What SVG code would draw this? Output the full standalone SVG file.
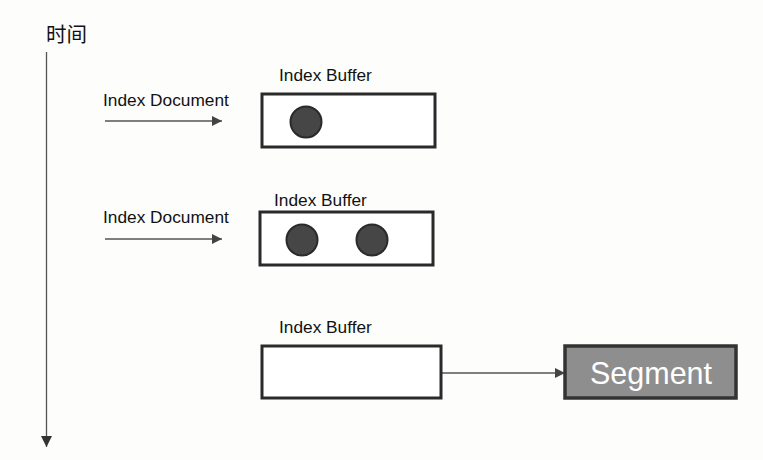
<svg xmlns="http://www.w3.org/2000/svg" width="763" height="460" viewBox="0 0 763 460">
<defs>
<style>
.lbl{font-family:"Liberation Sans",Arial,sans-serif;font-size:17.3px;fill:#111}
.buf{fill:#fff;stroke:#2a2a2a;stroke-width:3}
.dot{fill:#464646;stroke:#2a2a2a;stroke-width:2}
.conn{stroke:#555;stroke-width:1.3;fill:none}
</style>
<marker id="ah" viewBox="0 0 10 10" refX="10" refY="5" markerWidth="12" markerHeight="10" markerUnits="userSpaceOnUse" orient="auto">
<path d="M0,0 L10,5 L0,10 Z" fill="#444"/>
</marker>
<marker id="ah2" viewBox="0 0 10 10" refX="10" refY="5" markerWidth="13" markerHeight="11" markerUnits="userSpaceOnUse" orient="auto">
<path d="M0,0 L10,5 L0,10 Z" fill="#333"/>
</marker>
</defs>
<rect width="763" height="460" fill="#fdfdfc"/>
<text x="46" y="42" font-family="'Noto Sans CJK SC',sans-serif" font-size="20.5" fill="#111">时间</text>
<g id="connectors">
<line class="conn" x1="46.5" y1="52" x2="46.5" y2="447" stroke="#888" stroke-width="2" marker-end="url(#ah2)"/>
<line class="conn" x1="105" y1="121" x2="222" y2="121" marker-end="url(#ah)"/>
<line class="conn" x1="105" y1="239" x2="222" y2="239" marker-end="url(#ah)"/>
<line class="conn" x1="442" y1="373" x2="565" y2="373" marker-end="url(#ah)"/>
</g>
<g id="doc1"><text class="lbl" x="103" y="106">Index Document</text></g>
<g id="doc2"><text class="lbl" x="103" y="223">Index Document</text></g>
<g id="buffer1">
<text class="lbl" x="279" y="81">Index Buffer</text>
<rect class="buf" x="262" y="94" width="173" height="53"/>
<circle class="dot" cx="306" cy="122" r="15.5"/>
</g>
<g id="buffer2">
<text class="lbl" x="274" y="206">Index Buffer</text>
<rect class="buf" x="260" y="212" width="173" height="53"/>
<circle class="dot" cx="302" cy="240" r="15.5"/>
<circle class="dot" cx="372" cy="240" r="15.5"/>
</g>
<g id="buffer3">
<text class="lbl" x="279" y="333">Index Buffer</text>
<rect class="buf" x="262" y="346" width="179" height="52"/>
</g>
<g id="segment">
<rect x="565" y="346" width="171" height="52" fill="#8e8e8e" stroke="#333" stroke-width="3.5"/>
<text x="651" y="384" text-anchor="middle" font-family="'Liberation Sans',Arial,sans-serif" font-size="30.5" fill="#fff">Segment</text>
</g>
</svg>
